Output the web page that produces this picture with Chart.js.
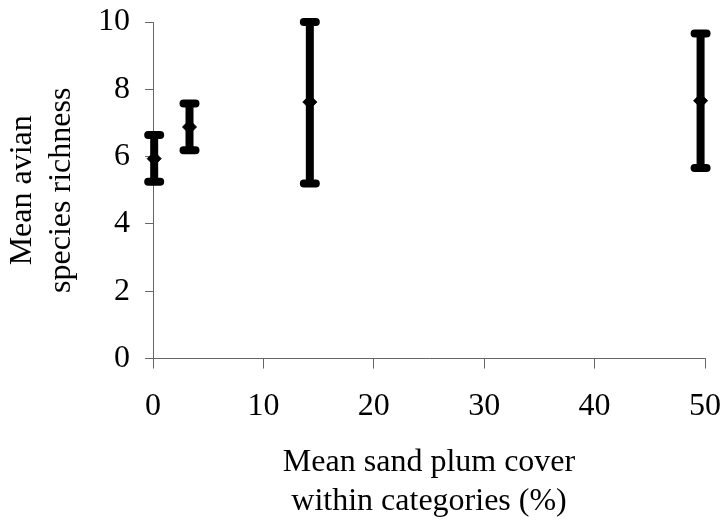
<!DOCTYPE html>
<html lang="en">
<head>
    <meta charset="UTF-8">
    <title>Mean avian species richness vs sand plum cover</title>
    <script src="https://cdn.jsdelivr.net/npm/chart.js"></script>
    <style>
        body {
            margin: 0;
            background: #fff;
        }
        .chart-container {
            width: 726px;
            height: 523px;
        }
    </style>
</head>
<body>
<div class="chart-container">
    <canvas id="richnessChart" width="726" height="523"></canvas>
</div>

<script>
    // cover category means (%) and richness means with error bar ends
    const cover = [0.1, 3.3, 14.2, 49.6];
    const richness = [5.94, 6.88, 7.62, 7.66];
    const upper = [6.64, 7.58, 10.0, 9.66];
    const lower = [5.25, 6.19, 5.2, 5.66];

    const xTicks = [0, 10, 20, 30, 40, 50];
    const yTicks = [0, 2, 4, 6, 8, 10];

    const axisColor = '#666';
    const font = { family: "'Liberation Serif', 'Times New Roman', serif", size: 32 };

    // draws the error bars from the upper/lower arrays through the chart scales
    const errorBars = {
        id: 'errorBars',
        beforeDatasetsDraw(chart) {
            const { ctx, scales: { x, y } } = chart;
            ctx.save();
            ctx.strokeStyle = '#000';
            ctx.lineCap = 'round';
            ctx.lineWidth = 8;
            cover.forEach((c, i) => {
                const px = x.getPixelForValue(c);
                const top = y.getPixelForValue(upper[i]);
                const bot = y.getPixelForValue(lower[i]);
                ctx.beginPath();
                ctx.moveTo(px, top);
                ctx.lineTo(px, bot);
                ctx.moveTo(px - 6, top);
                ctx.lineTo(px + 6, top);
                ctx.moveTo(px - 6, bot);
                ctx.lineTo(px + 6, bot);
                ctx.stroke();
            });
            ctx.restore();
        }
    };

    // let the layout padding alone decide the free space around the plot
    function noOverhang(scale) {
        scale.paddingTop = 0;
        scale.paddingBottom = 0;
        scale.paddingLeft = 0;
        scale.paddingRight = 0;
    }

    const ctx = document.getElementById('richnessChart').getContext('2d');
    new Chart(ctx, {
        type: 'scatter',
        data: {
            datasets: [{
                data: cover.map((c, i) => ({ x: c, y: richness[i] })),
                pointStyle: 'rectRot',
                pointRadius: 7,
                backgroundColor: '#000',
                borderColor: '#000',
                borderWidth: 1,
                clip: false
            }]
        },
        plugins: [errorBars],
        options: {
            responsive: false,
            animation: false,
            layout: { padding: { left: 0, right: 21, top: 22, bottom: 1 } },
            plugins: {
                legend: { display: false },
                tooltip: { enabled: false }
            },
            scales: {
                x: {
                    type: 'linear',
                    min: 0,
                    max: 50,
                    afterBuildTicks: (scale) => { scale.ticks = xTicks.map(v => ({ value: v })); },
                    afterFit: noOverhang,
                    border: { display: true, color: axisColor, width: 1 },
                    grid: { drawOnChartArea: false, drawTicks: true, tickLength: 10, color: axisColor },
                    ticks: { color: '#000', font: font, padding: 19, maxRotation: 0 },
                    title: {
                        display: true,
                        text: ['Mean sand plum cover', 'within categories (%)'],
                        color: '#000',
                        font: { family: font.family, size: 32, lineHeight: 1.22 },
                        padding: { top: -2, bottom: 1 }
                    }
                },
                y: {
                    min: 0,
                    max: 10,
                    afterBuildTicks: (scale) => { scale.ticks = yTicks.map(v => ({ value: v })); },
                    afterFit: noOverhang,
                    border: { display: true, color: axisColor, width: 1 },
                    grid: { drawOnChartArea: false, drawTicks: true, tickLength: 8, color: axisColor },
                    ticks: { color: '#000', font: font, padding: 15 },
                    title: {
                        display: true,
                        text: ['Mean avian', 'species richness'],
                        color: '#000',
                        font: { family: font.family, size: 32, lineHeight: 1.22 },
                        padding: { top: 3, bottom: 2 }
                    }
                }
            }
        }
    });
</script>
</body>
</html>
